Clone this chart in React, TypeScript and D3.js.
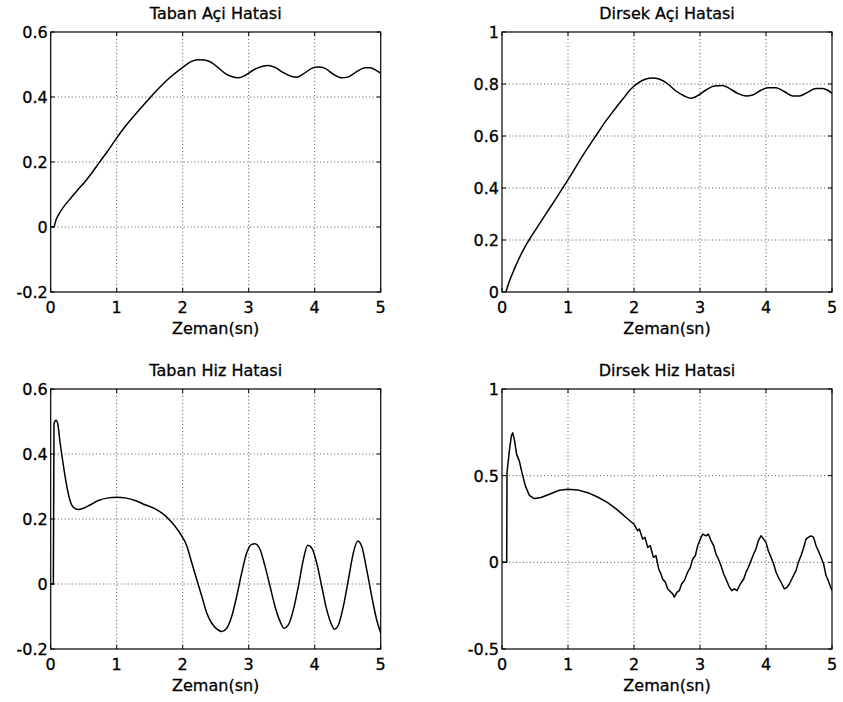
import React from 'react';
import * as d3 from 'd3';

// ---------- data ----------
const xTickValues = [0, 1, 2, 3, 4, 5];
const xTickLabels = ['0', '1', '2', '3', '4', '5'];
const xAxisLabel = 'Zeman(sn)';

const titles = ['Taban Açi Hatasi', 'Dirsek Açi Hatasi', 'Taban Hiz Hatasi', 'Dirsek Hiz Hatasi'];

const yTicksTabanAci = [-0.2, 0, 0.2, 0.4, 0.6];
const yLabelsTabanAci = ['-0.2', '0', '0.2', '0.4', '0.6'];
const yTicksDirsekAci = [0, 0.2, 0.4, 0.6, 0.8, 1];
const yLabelsDirsekAci = ['0', '0.2', '0.4', '0.6', '0.8', '1'];
const yTicksTabanHiz = [-0.2, 0, 0.2, 0.4, 0.6];
const yLabelsTabanHiz = ['-0.2', '0', '0.2', '0.4', '0.6'];
const yTicksDirsekHiz = [-0.5, 0, 0.5, 1];
const yLabelsDirsekHiz = ['-0.5', '0', '0.5', '1'];

const tabanAciT = [0, 0.045, 0.081, 0.131, 0.207, 0.308, 0.409, 0.51, 0.611, 0.737, 0.864, 0.99, 1.116, 1.242, 1.369, 1.52, 1.672, 1.823, 2.0, 2.126, 2.227, 2.328, 2.429, 2.515, 2.641, 2.742, 2.843, 2.944, 3.071, 3.197, 3.298, 3.399, 3.525, 3.652, 3.727, 3.828, 3.955, 4.056, 4.157, 4.283, 4.409, 4.51, 4.636, 4.763, 4.838, 4.939, 5.0];
const tabanAciV = [0, 0, 0.022, 0.042, 0.065, 0.09, 0.114, 0.137, 0.163, 0.199, 0.234, 0.271, 0.306, 0.337, 0.367, 0.401, 0.434, 0.463, 0.491, 0.509, 0.515, 0.514, 0.507, 0.494, 0.473, 0.463, 0.459, 0.466, 0.483, 0.494, 0.497, 0.491, 0.475, 0.463, 0.461, 0.471, 0.488, 0.492, 0.488, 0.47, 0.459, 0.462, 0.478, 0.49, 0.49, 0.481, 0.473];

const dirsekAciT = [0.06, 0.11, 0.19, 0.26, 0.34, 0.41, 0.55, 0.69, 0.82, 0.92, 1.07, 1.2, 1.32, 1.42, 1.58, 1.7, 1.83, 1.95, 2.06, 2.18, 2.28, 2.38, 2.51, 2.636, 2.763, 2.864, 2.965, 3.091, 3.217, 3.343, 3.444, 3.571, 3.697, 3.798, 3.924, 4.025, 4.152, 4.278, 4.404, 4.505, 4.631, 4.758, 4.859, 4.934, 5.0];
const dirsekAciV = [0, 0.04, 0.09, 0.13, 0.17, 0.2, 0.255, 0.31, 0.36, 0.4, 0.46, 0.515, 0.562, 0.6, 0.66, 0.7, 0.742, 0.78, 0.803, 0.819, 0.823, 0.819, 0.801, 0.773, 0.754, 0.745, 0.755, 0.777, 0.792, 0.794, 0.783, 0.764, 0.754, 0.758, 0.776, 0.786, 0.786, 0.771, 0.754, 0.754, 0.768, 0.783, 0.783, 0.776, 0.764];

const tabanHizT = [0, 0.04, 0.05, 0.081, 0.106, 0.141, 0.192, 0.242, 0.293, 0.343, 0.419, 0.495, 0.596, 0.722, 0.874, 1.0, 1.126, 1.278, 1.429, 1.581, 1.707, 1.833, 1.934, 2.0, 2.061, 2.136, 2.212, 2.288, 2.364, 2.439, 2.515, 2.591, 2.667, 2.742, 2.818, 2.894, 2.97, 3.045, 3.096, 3.172, 3.247, 3.323, 3.399, 3.475, 3.535, 3.601, 3.677, 3.753, 3.828, 3.894, 3.955, 4.03, 4.106, 4.182, 4.258, 4.298, 4.359, 4.434, 4.51, 4.586, 4.652, 4.712, 4.788, 4.864, 4.939, 5.0];
const tabanHizV = [0, 0, 0.494, 0.504, 0.494, 0.437, 0.365, 0.303, 0.257, 0.236, 0.229, 0.233, 0.243, 0.257, 0.265, 0.267, 0.265, 0.257, 0.244, 0.231, 0.215, 0.19, 0.164, 0.143, 0.118, 0.066, 0.014, -0.037, -0.089, -0.12, -0.138, -0.146, -0.136, -0.1, -0.038, 0.034, 0.096, 0.122, 0.124, 0.106, 0.055, -0.007, -0.069, -0.115, -0.136, -0.126, -0.079, -0.007, 0.075, 0.119, 0.111, 0.065, -0.007, -0.079, -0.126, -0.139, -0.126, -0.069, 0.013, 0.096, 0.132, 0.116, 0.044, -0.038, -0.11, -0.151];

const dirsekHizT = [0, 0.071, 0.076, 0.111, 0.141, 0.162, 0.187, 0.222, 0.263, 0.303, 0.354, 0.414, 0.49, 0.591, 0.717, 0.869, 0.995, 1.146, 1.298, 1.449, 1.601, 1.753, 1.879, 2.0, 2.056, 2.081, 2.131, 2.167, 2.207, 2.247, 2.293, 2.333, 2.374, 2.409, 2.434, 2.475, 2.51, 2.535, 2.586, 2.611, 2.652, 2.687, 2.722, 2.763, 2.813, 2.854, 2.889, 2.929, 2.965, 3.005, 3.04, 3.091, 3.126, 3.167, 3.207, 3.242, 3.278, 3.318, 3.359, 3.394, 3.434, 3.48, 3.52, 3.561, 3.611, 3.662, 3.697, 3.732, 3.773, 3.813, 3.848, 3.884, 3.924, 3.965, 4.0, 4.035, 4.076, 4.116, 4.152, 4.187, 4.227, 4.278, 4.318, 4.354, 4.404, 4.455, 4.49, 4.53, 4.571, 4.606, 4.641, 4.682, 4.722, 4.758, 4.793, 4.833, 4.874, 4.909, 4.934, 4.97, 5.0];
const dirsekHizV = [0, 0, 0.517, 0.642, 0.728, 0.747, 0.709, 0.623, 0.584, 0.517, 0.441, 0.387, 0.368, 0.374, 0.393, 0.416, 0.421, 0.418, 0.402, 0.377, 0.345, 0.301, 0.259, 0.22, 0.182, 0.192, 0.134, 0.144, 0.086, 0.096, 0.029, 0.038, -0.038, -0.067, -0.096, -0.115, -0.153, -0.163, -0.182, -0.201, -0.172, -0.163, -0.125, -0.105, -0.057, -0.029, 0.019, 0.038, 0.096, 0.134, 0.163, 0.153, 0.163, 0.125, 0.096, 0.048, 0.019, -0.019, -0.067, -0.096, -0.134, -0.163, -0.153, -0.163, -0.125, -0.096, -0.057, -0.029, 0.01, 0.048, 0.077, 0.125, 0.153, 0.134, 0.115, 0.067, 0.029, -0.01, -0.057, -0.086, -0.115, -0.153, -0.144, -0.125, -0.086, -0.048, 0.0, 0.038, 0.086, 0.134, 0.144, 0.153, 0.144, 0.096, 0.067, 0.029, -0.01, -0.077, -0.096, -0.134, -0.163];

// ---------- layout ----------
const W = 843;
const H = 702;
const FONT = '"DejaVu Sans", sans-serif';

type Panel = {
  title: string;
  left: number; right: number; top: number; bottom: number;
  yDomain: [number, number];
  yTicks: number[]; yLabels: string[];
  t: number[]; v: number[];
  smooth: boolean;
  id: string;
};

const panels: Panel[] = [
  { id: 'p1', title: titles[0], left: 50.7, right: 380.7, top: 32, bottom: 292, yDomain: [-0.2, 0.6], yTicks: yTicksTabanAci, yLabels: yLabelsTabanAci, t: tabanAciT, v: tabanAciV, smooth: true },
  { id: 'p2', title: titles[1], left: 502, right: 832, top: 32, bottom: 292, yDomain: [0, 1], yTicks: yTicksDirsekAci, yLabels: yLabelsDirsekAci, t: dirsekAciT, v: dirsekAciV, smooth: true },
  { id: 'p3', title: titles[2], left: 50.7, right: 380.7, top: 389, bottom: 649, yDomain: [-0.2, 0.6], yTicks: yTicksTabanHiz, yLabels: yLabelsTabanHiz, t: tabanHizT, v: tabanHizV, smooth: true },
  { id: 'p4', title: titles[3], left: 502, right: 832, top: 389, bottom: 649, yDomain: [-0.5, 1], yTicks: yTicksDirsekHiz, yLabels: yLabelsDirsekHiz, t: dirsekHizT, v: dirsekHizV, smooth: false },
];

const TXT = { fontSize: 16, fontFamily: FONT, fill: '#000', stroke: '#000', strokeWidth: 0.3 } as const;

function PanelView({ p }: { p: Panel }) {
  const x = d3.scaleLinear().domain([0, 5]).range([p.left, p.right]);
  const y = d3.scaleLinear().domain(p.yDomain).range([p.bottom, p.top]);
  const pts: [number, number][] = p.t.map((t, i) => [t, p.v[i]]);
  const line = d3.line<[number, number]>()
    .x(d => x(d[0]))
    .y(d => y(d[1]))
    .curve(p.smooth ? d3.curveMonotoneX : d3.curveLinear);
  const tl = 4;
  const cx = (p.left + p.right) / 2;
  return (
    <g>
      <defs>
        <clipPath id={`clip-${p.id}`}>
          <rect x={p.left} y={p.top - 2} width={p.right - p.left} height={p.bottom - p.top + 4} />
        </clipPath>
      </defs>
      {xTickValues.slice(1, -1).map(v => (
        <line key={`gx${v}`} x1={x(v)} x2={x(v)} y1={p.top} y2={p.bottom} stroke="#555" strokeWidth={1} strokeDasharray="1 2.5" />
      ))}
      {p.yTicks.slice(1, -1).map(v => (
        <line key={`gy${v}`} x1={p.left} x2={p.right} y1={y(v)} y2={y(v)} stroke="#555" strokeWidth={1} strokeDasharray="1 2.5" />
      ))}
      {xTickValues.map(v => (
        <g key={`tx${v}`}>
          <line x1={x(v)} x2={x(v)} y1={p.bottom} y2={p.bottom - tl} stroke="#000" />
          <line x1={x(v)} x2={x(v)} y1={p.top} y2={p.top + tl} stroke="#000" />
        </g>
      ))}
      {p.yTicks.map(v => (
        <g key={`ty${v}`}>
          <line x1={p.left} x2={p.left + tl} y1={y(v)} y2={y(v)} stroke="#000" />
          <line x1={p.right} x2={p.right - tl} y1={y(v)} y2={y(v)} stroke="#000" />
        </g>
      ))}
      <path d={line(pts) || ''} fill="none" stroke="#000" strokeWidth={1.5} strokeLinejoin="round" clipPath={`url(#clip-${p.id})`} />
      <rect x={p.left} y={p.top} width={p.right - p.left} height={p.bottom - p.top} fill="none" stroke="#000" strokeWidth={1.2} />
      {xTickValues.map((v, i) => (
        <text key={`lx${v}`} x={x(v)} y={p.bottom + 21} textAnchor="middle" {...TXT}>{xTickLabels[i]}</text>
      ))}
      {p.yTicks.map((v, i) => (
        <text key={`ly${v}`} x={p.left - 3} y={y(v) + 6} textAnchor="end" {...TXT}>{p.yLabels[i]}</text>
      ))}
      <text x={cx} y={p.top - 13.5} textAnchor="middle" {...TXT}>{p.title}</text>
      <text x={cx} y={p.bottom + 42} textAnchor="middle" {...TXT}>{xAxisLabel}</text>
    </g>
  );
}

export default function App() {
  return (
    <svg width={W} height={H} viewBox={`0 0 ${W} ${H}`} style={{ position: 'absolute', left: 0, top: 0, background: '#fff' }}>
      <rect x={0} y={0} width={W} height={H} fill="#fff" />
      {panels.map(p => <PanelView key={p.id} p={p} />)}
    </svg>
  );
}
